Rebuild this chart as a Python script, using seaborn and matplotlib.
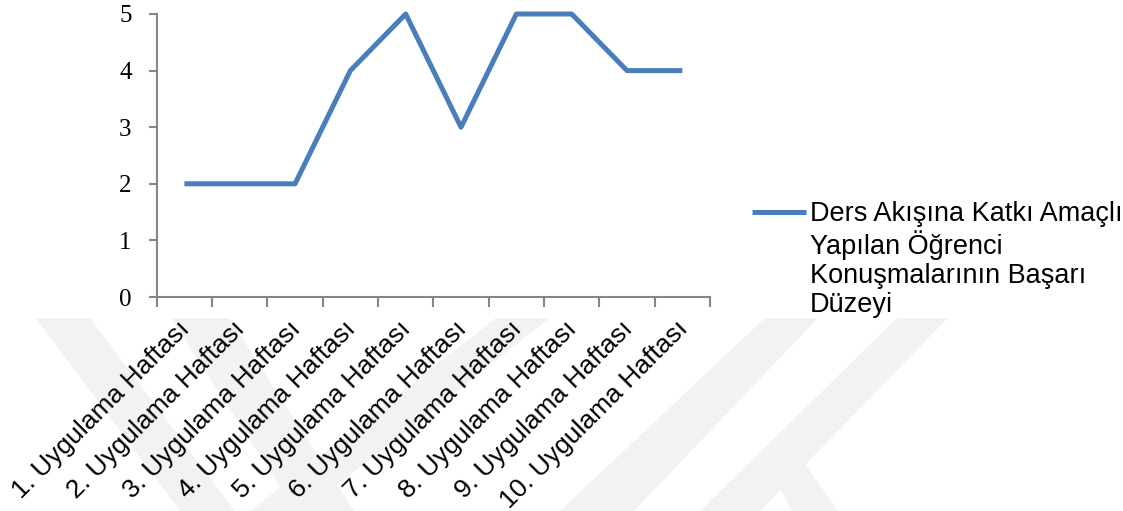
import numpy as np
import pandas as pd
import matplotlib
matplotlib.use("Agg")
import matplotlib.pyplot as plt
from matplotlib.patches import Polygon
from matplotlib.legend_handler import HandlerLine2D
from matplotlib.ticker import FixedLocator
from matplotlib.transforms import ScaledTranslation
import seaborn as sns

# Weekly success levels of student contributions to the lesson flow
weeks = [f"{i}. Uygulama Haftası" for i in range(1, 11)]
scores = [2, 2, 2, 4, 5, 3, 5, 5, 4, 4]
series_label = ("Ders Akışına Katkı Amaçlı\nYapılan Öğrenci\n"
                "Konuşmalarının Başarı\nDüzeyi")
y_ticks = [0, 1, 2, 3, 4, 5]

df = pd.DataFrame({"hafta": weeks, "puan": scores})

sns.set_theme(style="white")
plt.rcParams["font.family"] = ["Liberation Sans", "DejaVu Sans"]
plt.rcParams["text.color"] = "black"
plt.rcParams["xtick.labelcolor"] = "black"
plt.rcParams["ytick.labelcolor"] = "black"

W, H = 1123, 511
fig = plt.figure(figsize=(W / 100, H / 100), dpi=100)
fig.patch.set_facecolor("white")

# faint diagonal background bands
bands = [
    [(36, 318), (90, 318), (235, 511), (180, 511)],
    [(171, 318), (229, 318), (354, 511), (296, 511)],
    [(250, 511), (304, 511), (550, 318), (496, 318)],
    [(560, 511), (634, 511), (818, 318), (765, 318)],
    [(700, 511), (760, 511), (948, 318), (897, 318)],
    [(770, 468), (792, 446), (838, 511), (792, 511)],
]
for pts in bands:
    fig.patches.append(Polygon([(x / W, 1 - y / H) for x, y in pts], closed=True,
                               transform=fig.transFigure, facecolor="#f2f2f2",
                               edgecolor="none", zorder=-5))

ax = fig.add_axes([156.7 / W, 1 - 297 / H, (710 - 156.7) / W, (297 - 14) / H])
ax.set_facecolor("none")

sns.lineplot(data=df, x="hafta", y="puan", ax=ax, sort=False, color="#4a7ebb",
             linewidth=3.6, label=series_label, clip_on=False,
             solid_joinstyle="round", solid_capstyle="butt")

ax.set_xlim(-0.5, len(weeks) - 0.5)
ax.set_ylim(0, 5)
ax.set_xlabel("")
ax.set_ylabel("")

for side in ["top", "right"]:
    ax.spines[side].set_visible(False)
for side in ["left", "bottom"]:
    ax.spines[side].set_color("#868686")
    ax.spines[side].set_linewidth(1.5)

ax.set_yticks(y_ticks)
ax.set_yticklabels([str(v) for v in y_ticks], family="Liberation Serif", fontsize=18,
                   color="black")
ax.tick_params(axis="y", direction="out", length=6, width=1.5, color="#868686",
               pad=12, left=True)

ax.set_xticks(range(len(weeks)))
ax.tick_params(axis="x", which="major", length=0, pad=14)
ax.tick_params(axis="x", which="minor", direction="out", length=7, width=1.5,
               color="#868686", bottom=True)
ax.set_xticklabels(weeks, rotation=45, ha="right", va="top",
                   rotation_mode="anchor", fontsize=19, color="black")
ax.xaxis.set_minor_locator(FixedLocator(np.arange(-0.5, len(weeks), 1.0)))
shift_left = ScaledTranslation(-7 / 100, 0, fig.dpi_scale_trans)
for lbl in ax.get_xticklabels():
    lbl.set_transform(lbl.get_transform() + shift_left)
ax.grid(False)


class FirstLineHandler(HandlerLine2D):
    """Places the legend line next to the first row of a multi-line label."""
    def __init__(self, shift, **kw):
        super().__init__(**kw)
        self.shift = shift

    def create_artists(self, legend, orig_handle, xdescent, ydescent, width,
                       height, fontsize, trans):
        arts = super().create_artists(legend, orig_handle, xdescent, ydescent,
                                      width, height, fontsize, trans)
        for a in arts:
            a.set_ydata(np.asarray(a.get_ydata(), dtype=float) + self.shift)
        return arts


handles, labels = ax.get_legend_handles_labels()
leg = ax.legend(handles, labels, loc="upper left",
                bbox_to_anchor=(752 / W, 1 - 201 / H), bbox_transform=fig.transFigure,
                frameon=False, borderpad=0, borderaxespad=0, handlelength=2.0,
                handletextpad=0.15, fontsize=19.5, labelcolor="black",
                handler_map={handles[0]: FirstLineHandler(shift=35)})
for t in leg.get_texts():
    t.set_linespacing(1.15)
for ln in leg.get_lines():
    ln.set_linewidth(3.6)

fig.savefig("out.png", dpi=100)
